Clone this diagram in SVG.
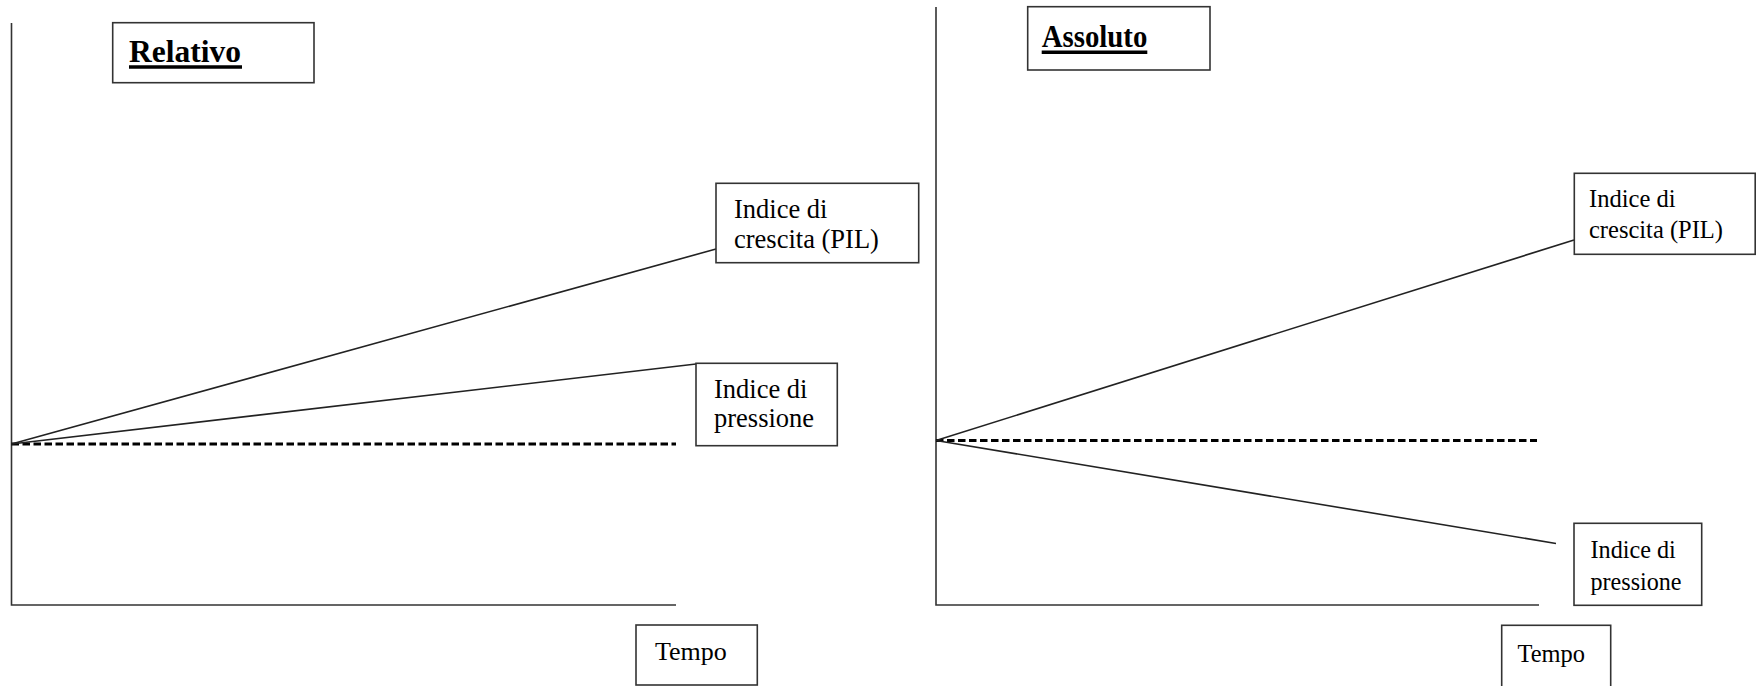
<svg xmlns="http://www.w3.org/2000/svg" width="1756" height="686" viewBox="0 0 1756 686">
  <style>
    .axis { stroke: #333; stroke-width: 1.6; fill: none; }
    .trend { stroke: #222; stroke-width: 1.6; fill: none; }
    .base { stroke: #000; stroke-width: 3; stroke-dasharray: 7.5 3.5; fill: none; }
    .box { fill: #fff; stroke: #333; stroke-width: 1.6; }
    .title { font-weight: bold; fill: #000; }
    .label { fill: #000; }
    .ul { stroke: #000; stroke-width: 3.5; }
  </style>

  <g font-family="Liberation Serif, DejaVu Serif, serif">
  <!-- left chart: relative growth -->
  <g id="relative-chart">
    <g id="connectors-left">
      <path class="axis" d="M11.5 23 V605 H676"/>
      <path class="base" d="M11.5 444 H676"/>
      <path class="trend" d="M11.5 444 L716 249"/>
      <path class="trend" d="M11.5 444 L696 364"/>
    </g>
    <g id="title-relativo">
      <rect class="box" x="112.7" y="22.7" width="201.3" height="60"/>
      <text class="title" x="129" y="61.5" font-size="30.5" textLength="112" lengthAdjust="spacingAndGlyphs">Relativo</text>
      <line class="ul" x1="129" y1="67" x2="242" y2="67"/>
    </g>
    <g id="growth-left">
      <rect class="box" x="716" y="183.3" width="202.7" height="79.4"/>
      <text class="label" x="734" y="218" font-size="26.5">Indice di</text>
      <text class="label" x="734" y="248" font-size="26.5">crescita (PIL)</text>
    </g>
    <g id="pressure-left">
      <rect class="box" x="696" y="363.3" width="141.3" height="82.4"/>
      <text class="label" x="714" y="397.5" font-size="26.5">Indice di</text>
      <text class="label" x="714" y="427" font-size="26.5">pressione</text>
    </g>
    <g id="time-left">
      <rect class="box" x="636" y="625" width="121.3" height="60"/>
      <text class="label" x="655" y="659.5" font-size="26">Tempo</text>
    </g>
  </g>

  <!-- right chart: absolute values -->
  <g id="absolute-chart">
    <g id="connectors-right">
      <path class="axis" d="M936 7 V605 H1539"/>
      <path class="base" d="M936 440.5 H1537"/>
      <path class="trend" d="M936 440.5 L1574 240"/>
      <path class="trend" d="M936 440.5 L1556 543.5"/>
    </g>
    <g id="title-assoluto">
      <rect class="box" x="1027.7" y="6.7" width="182.3" height="63.3"/>
      <text class="title" x="1041.7" y="46.5" font-size="31" textLength="105.6" lengthAdjust="spacingAndGlyphs">Assoluto</text>
      <line class="ul" x1="1041.7" y1="52.3" x2="1147.3" y2="52.3"/>
    </g>
    <g id="growth-right">
      <rect class="box" x="1574.3" y="173.3" width="180.9" height="81"/>
      <text class="label" x="1589" y="206.5" font-size="26" textLength="86.7" lengthAdjust="spacingAndGlyphs">Indice di</text>
      <text class="label" x="1589" y="237.5" font-size="26" textLength="134" lengthAdjust="spacingAndGlyphs">crescita (PIL)</text>
    </g>
    <g id="pressure-right">
      <rect class="box" x="1574" y="523.3" width="127.7" height="82"/>
      <text class="label" x="1590.5" y="558" font-size="26" textLength="85.3" lengthAdjust="spacingAndGlyphs">Indice di</text>
      <text class="label" x="1590.5" y="589.5" font-size="26" textLength="91" lengthAdjust="spacingAndGlyphs">pressione</text>
    </g>
    <g id="time-right">
      <rect class="box" x="1501.7" y="625.3" width="109" height="62"/>
      <text class="label" x="1517.5" y="661.5" font-size="26" textLength="67.5" lengthAdjust="spacingAndGlyphs">Tempo</text>
    </g>
  </g>
  </g>
</svg>
